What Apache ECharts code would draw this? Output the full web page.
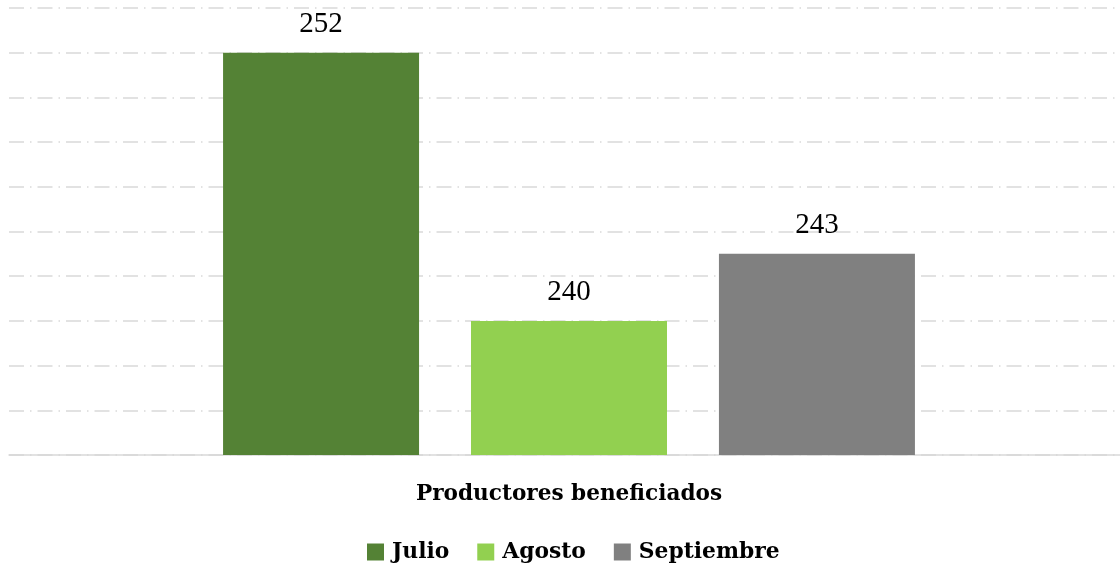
<!DOCTYPE html>
<html>
<head>
<meta charset="utf-8">
<script src="https://cdn.jsdelivr.net/npm/echarts@6/dist/echarts.min.js"></script>
<style>html,body{margin:0;padding:0;background:#fff}#c{width:1120px;height:569px}</style>
</head>
<body>
<div id="c"></div>
<script>
const categories = ['Productores beneficiados'];
const seriesNames = ['Julio', 'Agosto', 'Septiembre'];
const julio = [252];
const agosto = [240];
const septiembre = [243];
const colors = ['#548235', '#92D050', '#808080'];
const FONT = "'Liberation Serif', serif";
const BFONT = "'DejaVu Serif', serif";

const chart = echarts.init(document.getElementById('c'), null, {renderer: 'canvas'});
const values = [julio, agosto, septiembre];
chart.setOption({
  animation: false,
  grid: [
    {left: 9, right: 0, top: 8, bottom: 114},
    {left: 18, right: 0, top: 8, bottom: 114}
  ],
  xAxis: [
    {gridIndex: 0, type: 'category', data: categories,
     axisLine: {show: true, lineStyle: {color: '#d9d9d9', width: 1.5}},
     axisTick: {show: false}, axisLabel: {show: false}},
    {gridIndex: 1, type: 'category', data: categories,
     axisLine: {show: false}, axisTick: {show: false},
     axisLabel: {margin: 28, fontFamily: BFONT, fontWeight: 'bold', fontSize: 21.6, color: '#000'}}
  ],
  yAxis: [
    {gridIndex: 0, type: 'value', min: 234, max: 254, interval: 2,
     axisLabel: {show: false}, axisLine: {show: false}, axisTick: {show: false},
     splitLine: {show: true, lineStyle: {color: '#d9d9d9', width: 1.5, type: [15, 6, 1.5, 6]}}},
    {gridIndex: 1, type: 'value', min: 234, max: 254, interval: 2,
     axisLabel: {show: false}, axisLine: {show: false}, axisTick: {show: false},
     splitLine: {show: false}}
  ],
  legend: {
    bottom: 6, left: 367, padding: 0,
    itemWidth: 17, itemHeight: 17, itemGap: 28,
    icon: 'rect',
    textStyle: {fontFamily: BFONT, fontWeight: 'bold', fontSize: 21.8, color: '#000', padding: [0, 0, 0, 3]},
    data: seriesNames
  },
  series: seriesNames.map((n, i) => ({
    name: n, type: 'bar', xAxisIndex: 1, yAxisIndex: 1,
    data: values[i], barWidth: 196, barGap: '26.5%',
    itemStyle: {color: colors[i]},
    label: {show: true, position: 'top', distance: 14, fontFamily: FONT, fontSize: 29, color: '#000'}
  }))
});
</script>
</body>
</html>
